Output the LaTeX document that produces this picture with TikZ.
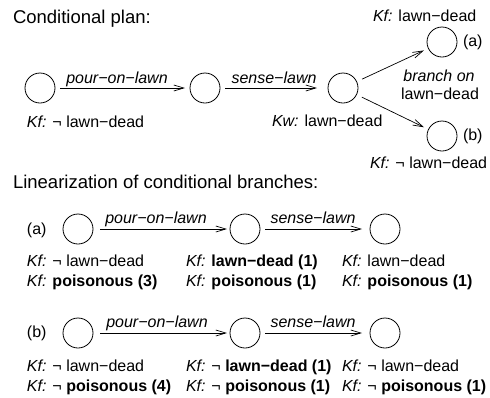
\documentclass[tikz,border=0pt]{standalone}
\usepackage{fontspec}
\setmainfont{Liberation Sans}
\usetikzlibrary{arrows.meta}
\begin{document}
\begin{tikzpicture}[x=1pt,y=-1pt,
  every node/.style={inner sep=0pt,outer sep=0pt,font=\fontsize{16}{19}\selectfont},
  st/.style={circle,draw,line width=0.8pt,minimum size=30pt},
  arr/.style={-{Straight Barb[length=10pt,width=6pt]},line width=0.7pt},
  txt/.style={anchor=base west},
  lbl/.style={anchor=base,font=\fontsize{16}{19}\selectfont\itshape},
  head/.style={anchor=base west,font=\fontsize{18.5}{22}\selectfont}]
\useasboundingbox (0,0) rectangle (490,397);
% ---------- Conditional plan ----------
\node[head] (h1) at (13,23) {Conditional plan:};
\node[st] (c1) at (40,88) {};
\node[st] (c2) at (205,88) {};
\node[st] (c3) at (343,88) {};
\node[st] (ca) at (442,42) {};
\node[st] (cb) at (442,136) {};
\draw[arr,shorten <=5pt,shorten >=5pt] (c1) -- (c2);
\draw[arr,shorten <=5pt,shorten >=11pt] (c2) -- (c3);
\draw[arr,shorten <=6pt,shorten >=5pt] (c3) -- (ca);
\draw[arr,shorten <=6pt,shorten >=5pt] (c3) -- (cb);
\node[lbl] (l1) at (117,83) {pour−on−lawn};
\node[lbl] (l2) at (274,83) {sense−lawn};
\node[txt] (k1) at (27,127) {\textit{Kf:} ¬ lawn−dead};
\node[txt] (k2) at (272,126) {\textit{Kw:} lawn−dead};
\node[txt] (ka) at (373,21) {\textit{Kf:} lawn−dead};
\node[txt] (kb) at (370,168) {\textit{Kf:} ¬ lawn−dead};
\node[txt] (pa) at (463,46) {(a)};
\node[txt] (pb) at (463,140) {(b)};
\node[lbl] (br1) at (439,81) {branch on};
\node[anchor=base] (br2) at (440,99) {lawn−dead};
% ---------- Linearization ----------
\node[head] (h2) at (13,188) {Linearization of conditional branches:};
% row (a)
\node[txt] (ra) at (27,234) {(a)};
\node[st] (a1) at (78,229) {};
\node[st] (a2) at (245,229) {};
\node[st] (a3) at (385,229) {};
\draw[arr,shorten <=7pt,shorten >=3pt] (a1) -- (a2);
\draw[arr,shorten <=5pt,shorten >=8pt] (a2) -- (a3);
\node[lbl] (la1) at (156,223) {pour−on−lawn};
\node[lbl] (la2) at (313,223) {sense−lawn};
\node[txt] (a11) at (27,266) {\textit{Kf:} ¬ lawn−dead};
\node[txt] (a12) at (27,286) {\textit{Kf:} \textbf{poisonous (3)}};
\node[txt] (a21) at (186,266) {\textit{Kf:} \textbf{lawn−dead (1)}};
\node[txt] (a22) at (186,286) {\textit{Kf:} \textbf{poisonous (1)}};
\node[txt] (a31) at (342,266) {\textit{Kf:} lawn−dead};
\node[txt] (a32) at (342,286) {\textit{Kf:} \textbf{poisonous (1)}};
% row (b)
\node[txt] (rb) at (27,337) {(b)};
\node[st] (b1) at (78,333) {};
\node[st] (b2) at (245,333) {};
\node[st] (b3) at (385,333) {};
\draw[arr,shorten <=7pt,shorten >=3pt] (b1) -- (b2);
\draw[arr,shorten <=5pt,shorten >=8pt] (b2) -- (b3);
\node[lbl] (lb1) at (157,327) {pour−on−lawn};
\node[lbl] (lb2) at (313,327) {sense−lawn};
\node[txt] (b11) at (27,371) {\textit{Kf:} ¬ lawn−dead};
\node[txt] (b12) at (27,391) {\textit{Kf:} ¬ \textbf{poisonous (4)}};
\node[txt] (b21) at (186,371) {\textit{Kf:} ¬ \textbf{lawn−dead (1)}};
\node[txt] (b22) at (186,391) {\textit{Kf:} ¬ \textbf{poisonous (1)}};
\node[txt] (b31) at (342,371) {\textit{Kf:} ¬ lawn−dead};
\node[txt] (b32) at (342,391) {\textit{Kf:} ¬ \textbf{poisonous (1)}};
\end{tikzpicture}
\end{document}
